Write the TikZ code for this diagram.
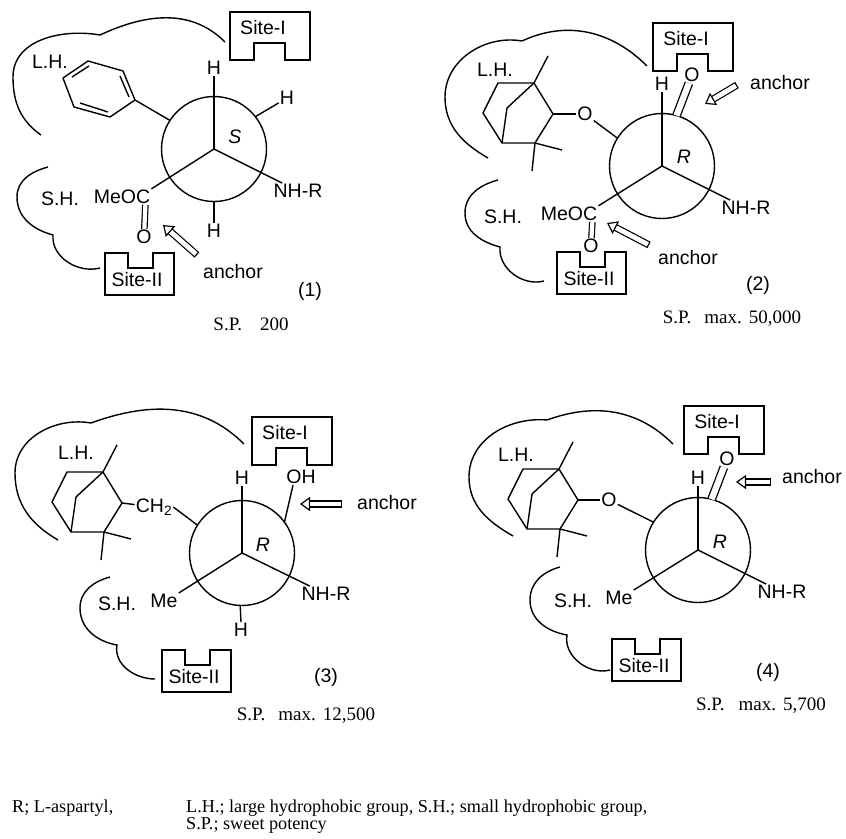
\documentclass[tikz,border=0pt]{standalone}
\usepackage{fontspec}
\setmainfont{Liberation Sans}
\newfontfamily\capfont{Liberation Serif}
\usetikzlibrary{arrows.meta}

% receptor pockets, drawn from their top left corner
\newcommand{\siteupper}[2]{%
  \begin{scope}[shift={#1}]
    \draw[pocket] (0,48) -- (0,0) -- (80,0) -- (80,48) -- (55,48) -- (55,31)
                  -- (24,31) -- (24,48) -- cycle;
    \node[chem] (#2) at (33,16) {Site-I};
  \end{scope}}
\newcommand{\sitelower}[2]{%
  \begin{scope}[shift={#1}]
    \draw[pocket] (0,0) -- (23,0) -- (23,15) -- (48,15) -- (48,0) -- (69,0)
                  -- (69,42) -- (0,42) -- cycle;
    \node[chem] (#2) at (32,27) {Site-II};
  \end{scope}}
% bicyclic group, origin at the upper bridgehead
\newcommand{\bicycle}[2]{%
  \begin{scope}[shift={#1}]
    \draw[bond] (0,0) -- (-36,0) -- (-51,30) -- (-32,60) -- (1,60)
                -- (19,31) -- cycle;
    \draw[bond] (14,-27) -- (0,0) -- (-27,25) -- (-32,60);
    \draw[bond] (1,60) -- (28,67);
    \draw[bond] (1,60) -- (-2,88);
    \coordinate (#2) at (19,31);
  \end{scope}}

\begin{document}
\begin{tikzpicture}[
    x=1pt, y=-1pt,
    chem/.style={font=\fontsize{19.5}{19.5}\selectfont, inner sep=1pt},
    caption/.style={font=\capfont\fontsize{19}{19}\selectfont, inner sep=0pt},
    legend/.style={font=\capfont\fontsize{18.2}{18.2}\selectfont, inner sep=0pt,
                   anchor=base west},
    newman/.style={circle, draw, line width=1.4pt, minimum size=105pt,
                   inner sep=0pt, outer sep=0pt},
    bond/.style={line width=1.4pt, line join=round},
    pocket/.style={line width=1.5pt},
    dbl/.style={double, double distance=4.2pt, line width=1.2pt},
    dblwide/.style={double, double distance=6.2pt, line width=1.3pt},
    cloud/.style={line width=1.4pt},
    hollow/.style={double=white, double distance=4.8pt, line width=1.2pt,
                   {Bar[width=7.2pt, line width=1.2pt]}-{Triangle[open, length=10pt, width=14pt]}}
]
\useasboundingbox (0,0) rectangle (846,838);

% (1) phenyl compound
\node[newman] (c1) at (214,149) {};
\node[chem] (h1a) at (214,68) {H};
\node[chem] (h1b) at (287,98) {H};
\node[chem] (h1c) at (214,231) {H};
\node[chem] (nh1) at (298,191) {NH-R};
\node[chem] (meoc1) at (122,197) {MeOC};
\node[chem] (o1) at (144,237) {O};
\node[chem] (conf1) at (235,137) {\textit{S}};
\node[chem] (lh1) at (50,62) {L.H.};
\node[chem] (sh1) at (60,199) {S.H.};
\node[chem] (anc1) at (233,272) {anchor};
\node[chem] (num1) at (310,291) {(1)};
\node[caption] (sp1) at (251,324) {S.P.\hspace{18pt}200};
\coordinate (ph1) at (135,100);
\coordinate (tip1) at (163,225);
\coordinate (tail1) at (197,255);
\draw[bond] (c1.center) -- (c1.90) -- (h1a.south);
\draw[bond] (c1.center) -- (nh1);
\draw[bond] (c1.center) -- (meoc1.north east);
\draw[bond] (c1.270) -- (h1c);
\draw[bond] (c1.38) -- (h1b);
\draw[bond] (c1.147) -- (ph1);
\draw[bond] (ph1) -- (110,117) -- (74,107) -- (63,78) -- (88,61) -- (123,71) -- cycle;
\draw[bond] (72,77) -- (89,66);
\draw[bond] (120,76) -- (129,97);
\draw[bond] (80,103) -- (108,112);
\draw[dbl] ([xshift=-6pt]meoc1.south east) -- (o1);
\draw[hollow] (tail1) -- (tip1);
\siteupper{(230,12)}{s1a}
\sitelower{(105,253)}{s1b}
\draw[cloud] (225,42) to[out=135, in=25] (100,35) to[out=170, in=90] (13,77)
             to[out=270, in=145] (41,135);
\draw[cloud] (48,167) to[out=195, in=90] (17,197) to[out=270, in=165] (53,235)
             to[out=265, in=195] (100,268);

% (2) ether with anchor on both sides
\node[newman] (c2) at (662,166) {};
\node[chem] (h2a) at (662,84) {H};
\node[chem] (o2a) at (692,75) {O};
\node[chem] (nh2) at (746,208) {NH-R};
\node[chem] (meoc2) at (569,214) {MeOC};
\node[chem] (o2b) at (591,246) {O};
\node[chem] (o2c) at (585,114) {O};
\node[chem] (conf2) at (684,157) {\textit{R}};
\node[chem] (lh2) at (495,70) {L.H.};
\node[chem] (sh2) at (503,217) {S.H.};
\node[chem] (anc2a) at (780,83) {anchor};
\node[chem] (anc2b) at (688,258) {anchor};
\node[chem] (num2) at (758,285) {(2)};
\node[caption] (sp2) at (732,319) {S.P.\hspace{13pt}max.\hspace{7pt}50,000};
\coordinate (tip2a) at (705,104);
\coordinate (tail2a) at (737,85);
\coordinate (tip2b) at (607,223);
\coordinate (tail2b) at (649,245);
\bicycle{(534,83)}{b2}
\draw[bond] (c2.center) -- (c2.90) -- (h2a.south);
\draw[bond] (c2.center) -- (nh2);
\draw[bond] (c2.center) -- (meoc2.north east);
\draw[dblwide] (c2.74) -- (o2a);
\draw[dbl] ([xshift=-6pt]meoc2.south east) -- (o2b);
\draw[bond] (b2) -- (o2c);
\draw[bond] (o2c) -- (c2.148);
\draw[hollow] (tail2a) -- (tip2a);
\draw[hollow] (tail2b) -- (tip2b);
\siteupper{(653,23)}{s2a}
\sitelower{(557,252)}{s2b}
\draw[cloud] (647,66) to[out=135, in=25] (522,41) to[out=170, in=90] (445,97)
             to[out=270, in=150] (488,158);
\draw[cloud] (498,180) to[out=195, in=90] (465,213) to[out=270, in=165] (500,247)
             to[out=265, in=195] (544,281);

% (3) alcohol
\node[newman] (c3) at (242,553) {};
\node[chem] (h3a) at (242,478) {H};
\node[chem] (oh3) at (301,477) {OH};
\node[chem] (h3b) at (241,630) {H};
\node[chem] (nh3) at (326,594) {NH-R};
\node[chem] (me3) at (164,601) {Me};
\node[chem] (ch3) at (154,507) {CH\textsubscript{2}};
\node[chem] (conf3) at (263,545) {\textit{R}};
\node[chem] (lh3) at (76,453) {L.H.};
\node[chem] (sh3) at (117,604) {S.H.};
\node[chem] (anc3) at (387,503) {anchor};
\node[chem] (num3) at (326,677) {(3)};
\node[caption] (sp3) at (306,716) {S.P.\hspace{13pt}max.\hspace{7pt}12,500};
\coordinate (tip3) at (300,504);
\coordinate (tail3) at (342,504);
\bicycle{(103,472)}{b3}
\draw[bond] (c3.center) -- (c3.90) -- (h3a.south);
\draw[bond] (c3.center) -- (nh3);
\draw[bond] (c3.center) -- (me3.north east);
\draw[bond] (c3.268) -- (h3b.north);
\draw[bond] (c3.36) -- ([xshift=-8pt]oh3.south);
\draw[bond] (b3) -- (ch3);
\draw[bond] (ch3.east) -- (c3.148);
\draw[hollow] (tail3) -- (tip3);
\siteupper{(252,417)}{s3a}
\sitelower{(162,650)}{s3b}
\draw[cloud] (244,444) to[out=135, in=20] (91,423) to[out=170, in=90] (15,473)
             to[out=270, in=150] (58,540);
\draw[cloud] (110,577) to[out=195, in=90] (80,608) to[out=270, in=170] (117,645)
             to[out=260, in=180] (155,679);

% (4) ketone
\node[newman] (c4) at (698,550) {};
\node[chem] (h4) at (698,478) {H};
\node[chem] (o4a) at (727,459) {O};
\node[chem] (o4b) at (609,500) {O};
\node[chem] (nh4) at (782,592) {NH-R};
\node[chem] (me4) at (619,598) {Me};
\node[chem] (conf4) at (720,542) {\textit{R}};
\node[chem] (lh4) at (516,455) {L.H.};
\node[chem] (sh4) at (573,601) {S.H.};
\node[chem] (anc4) at (812,477) {anchor};
\node[chem] (num4) at (768,672) {(4)};
\node[caption] (sp4) at (761,706) {S.P.\hspace{14pt}max.\hspace{7pt}5,700};
\coordinate (tip4) at (736,482);
\coordinate (tail4) at (771,482);
\bicycle{(559,469)}{b4}
\draw[bond] (c4.center) -- (c4.90) -- (h4.south);
\draw[bond] (c4.center) -- (nh4);
\draw[bond] (c4.center) -- (me4.north east);
\draw[dblwide] (c4.75) -- (o4a);
\draw[bond] (b4) -- (o4b);
\draw[bond] (o4b) -- (c4.148);
\draw[hollow] (tail4) -- (tip4);
\siteupper{(684,406)}{s4a}
\sitelower{(612,639)}{s4b}
\draw[cloud] (673,444) to[out=135, in=20] (547,420) to[out=175, in=90] (469,477)
             to[out=270, in=150] (513,536);
\draw[cloud] (560,567) to[out=195, in=90] (530,600) to[out=270, in=170] (567,635)
             to[out=260, in=195] (610,670);

% legend
\node[legend] (key1) at (12,812) {R; L-aspartyl,};
\node[legend] (key2) at (186,812) {L.H.; large hydrophobic group, S.H.; small hydrophobic group,};
\node[legend] (key3) at (186,829) {S.P.; sweet potency};
\end{tikzpicture}
\end{document}
